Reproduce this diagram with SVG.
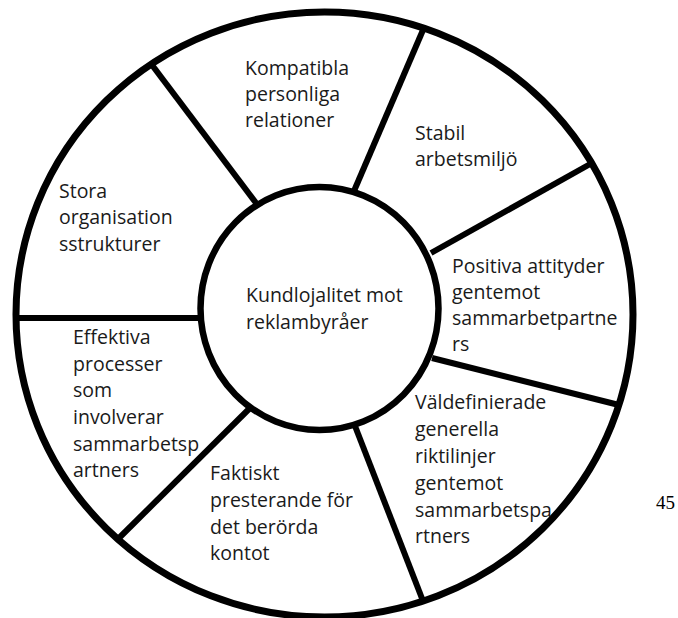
<svg xmlns="http://www.w3.org/2000/svg" width="678" height="618" viewBox="0 0 678 618">
<style>
.ring{fill:#fff;stroke:#000;stroke-width:7}
.hub{fill:#fff;stroke:#000;stroke-width:6.5}
.spoke{stroke:#000;stroke-width:6;fill:none}
.t{font-family:"Open Sans","Noto Sans","Liberation Sans",sans-serif;font-size:19.5px;fill:#1a1a1a}
.pg{font-family:"Liberation Serif","Times New Roman",serif;font-size:19px;fill:#000}
</style>
<rect width="678" height="618" fill="#fff"/>
<g id="ring"><ellipse class="ring" cx="324.5" cy="314.5" rx="308.5" ry="302.5"/></g>
<g id="connectors">
<line class="spoke" x1="152" y1="65" x2="256" y2="203"/>
<line class="spoke" x1="423" y1="30" x2="354" y2="191"/>
<line class="spoke" x1="592" y1="163" x2="431" y2="253"/>
<line class="spoke" x1="432" y1="358" x2="619" y2="405"/>
<line class="spoke" x1="355" y1="426" x2="423" y2="601"/>
<line class="spoke" x1="249" y1="409" x2="118" y2="539"/>
<line class="spoke" x1="16" y1="318" x2="201" y2="318"/>
</g>
<g id="center">
<ellipse class="hub" cx="319.5" cy="308.5" rx="119" ry="121.5"/>
<text class="t" x="246" y="302">Kundlojalitet mot</text>
<text class="t" x="246" y="329">reklambyråer</text>
</g>
<g id="kompatibla">
<text class="t" x="245" y="75">Kompatibla</text>
<text class="t" x="245" y="101">personliga</text>
<text class="t" x="245" y="127">relationer</text>
</g>
<g id="stabil">
<text class="t" x="415" y="140">Stabil</text>
<text class="t" x="415" y="166">arbetsmiljö</text>
</g>
<g id="positiva">
<text class="t" x="452" y="273">Positiva attityder</text>
<text class="t" x="452" y="299">gentemot</text>
<text class="t" x="452" y="325">sammarbetpartne</text>
<text class="t" x="452" y="351">rs</text>
</g>
<g id="valdefinierade">
<text class="t" x="415" y="409">Väldefinierade</text>
<text class="t" x="415" y="436">generella</text>
<text class="t" x="415" y="463">riktilinjer</text>
<text class="t" x="415" y="490">gentemot</text>
<text class="t" x="415" y="517">sammarbetspa</text>
<text class="t" x="415" y="543">rtners</text>
</g>
<g id="faktiskt">
<text class="t" x="210" y="480">Faktiskt</text>
<text class="t" x="210" y="507">presterande för</text>
<text class="t" x="210" y="534">det berörda</text>
<text class="t" x="210" y="560">kontot</text>
</g>
<g id="effektiva">
<text class="t" x="73" y="344">Effektiva</text>
<text class="t" x="73" y="371">processer</text>
<text class="t" x="73" y="397">som</text>
<text class="t" x="73" y="424">involverar</text>
<text class="t" x="73" y="451">sammarbetsp</text>
<text class="t" x="73" y="477">artners</text>
</g>
<g id="stora">
<text class="t" x="59" y="198">Stora</text>
<text class="t" x="59" y="224">organisation</text>
<text class="t" x="59" y="251">sstrukturer</text>
</g>
<text class="pg" x="656" y="509">45</text>
</svg>
